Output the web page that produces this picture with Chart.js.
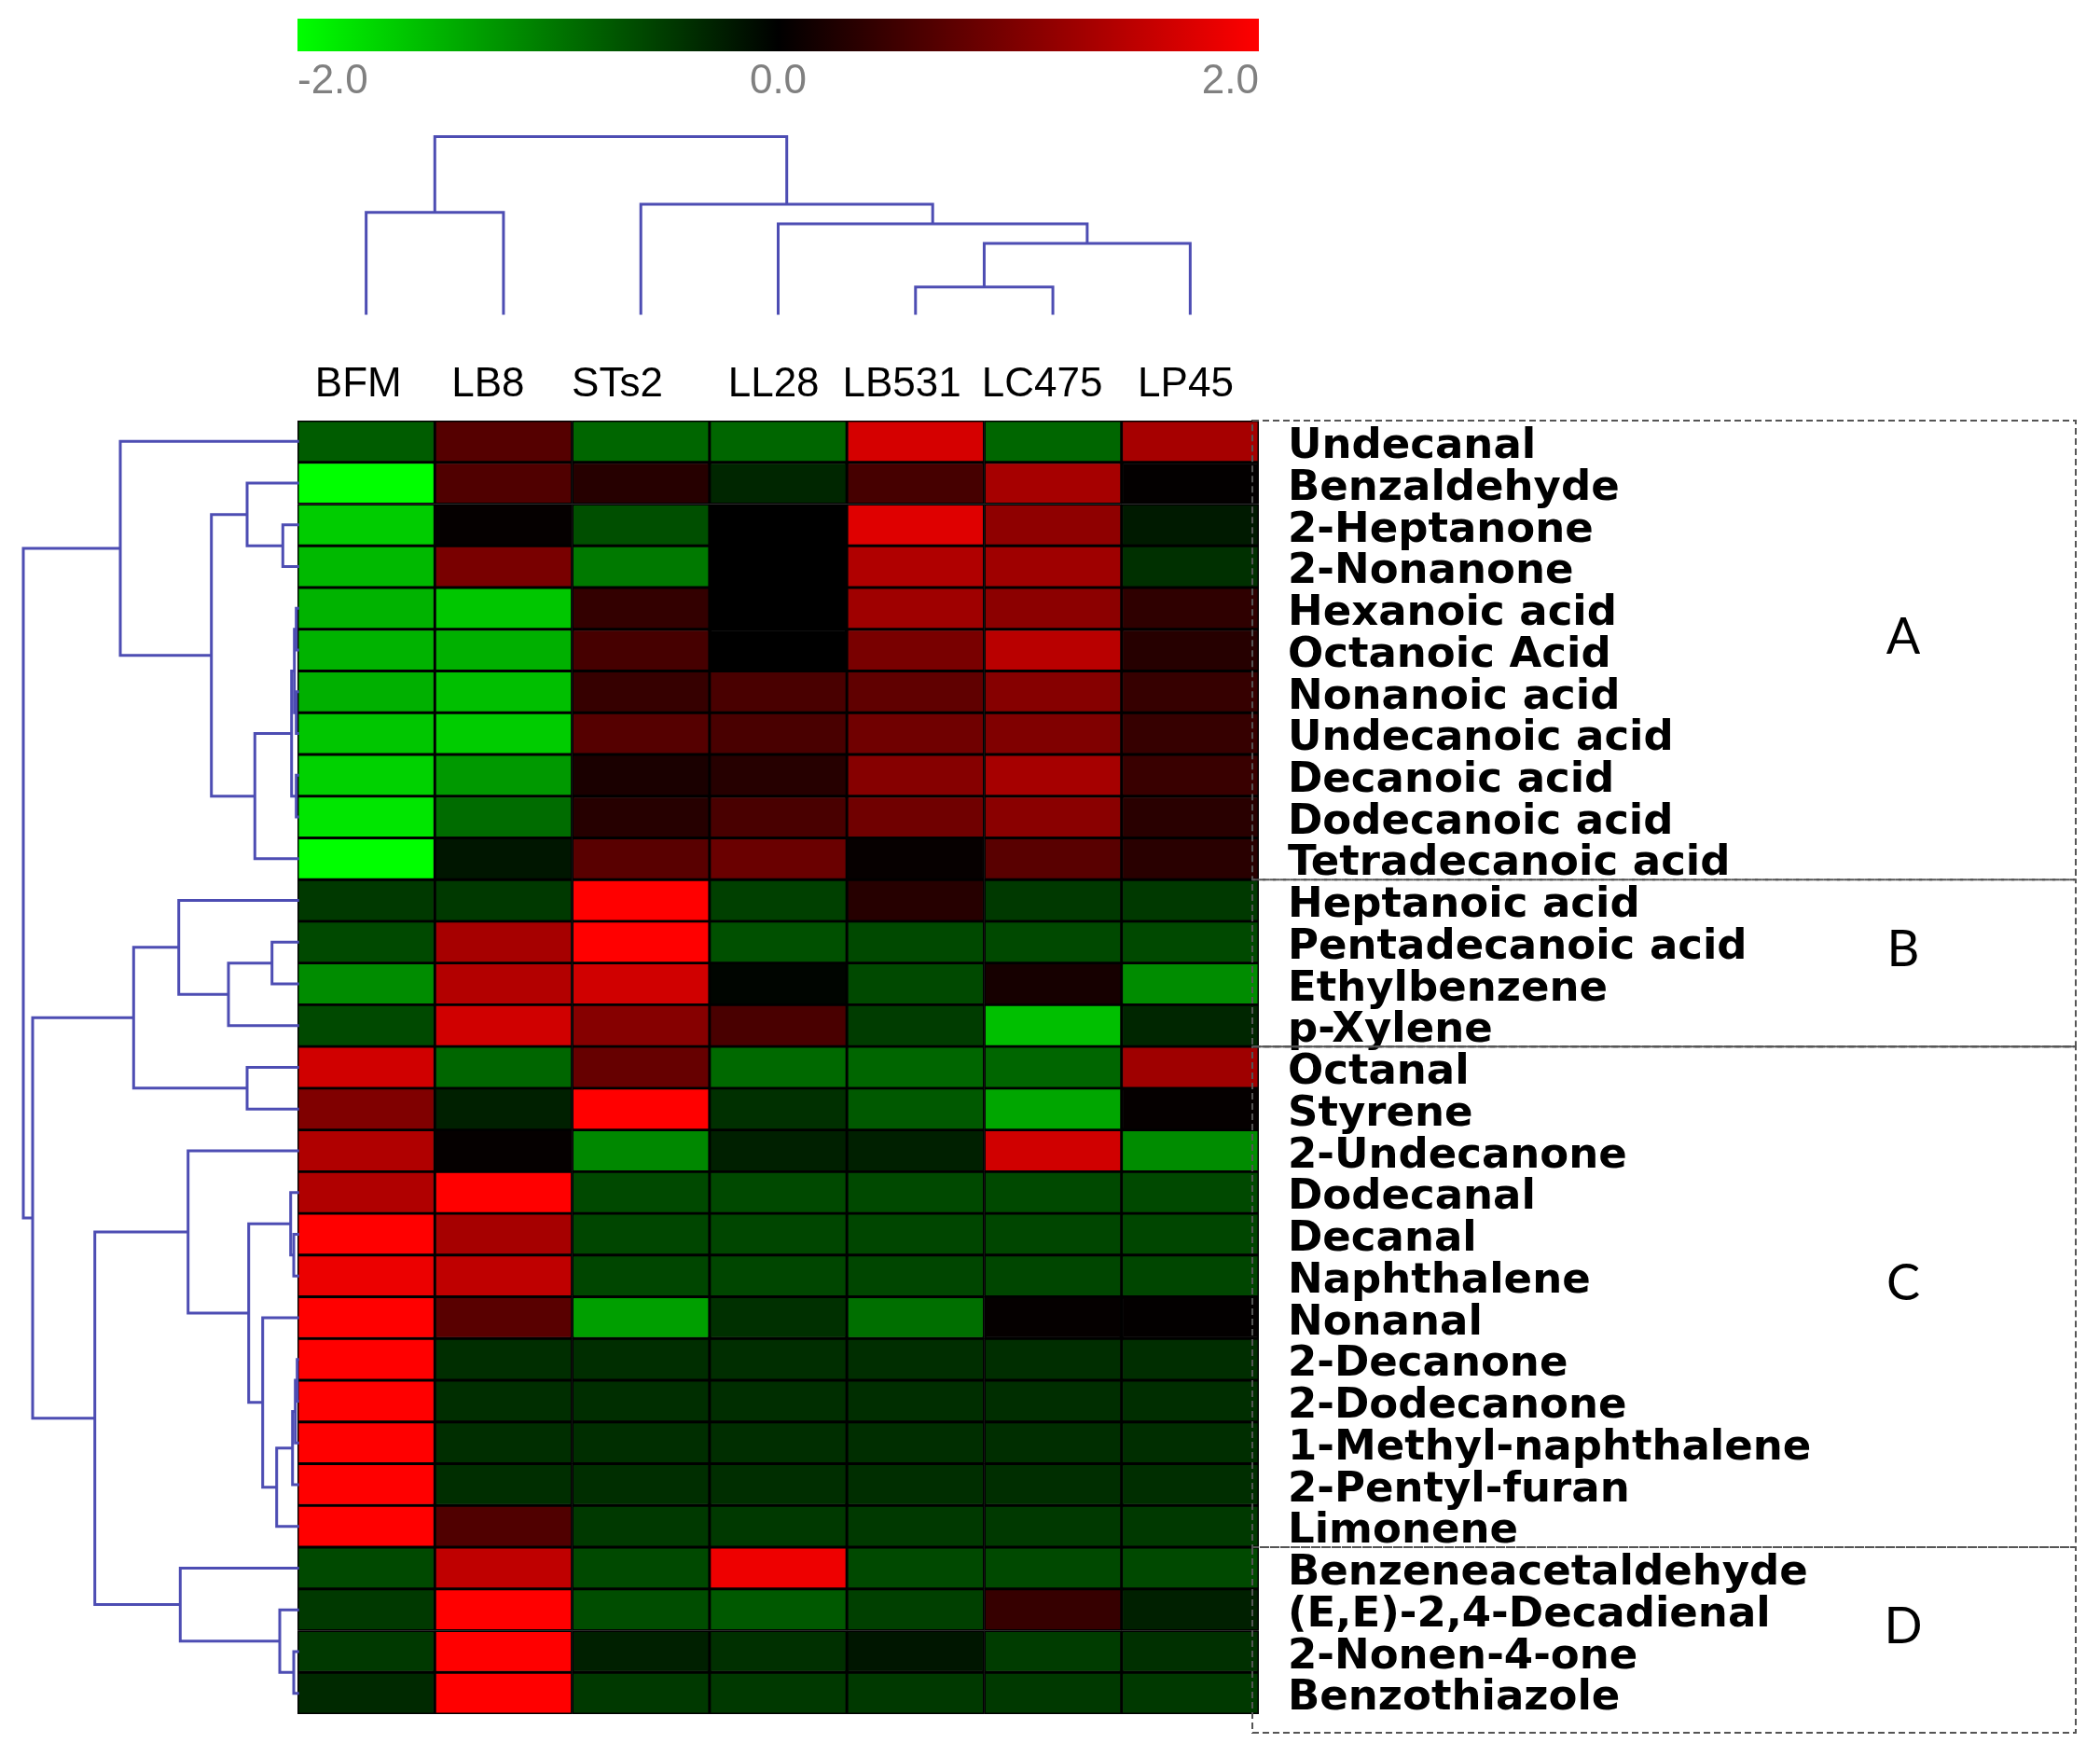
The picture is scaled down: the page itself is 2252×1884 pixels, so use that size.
<!DOCTYPE html>
<html>
<head>
<meta charset="utf-8">
<title>Volatile compounds heatmap</title>
<script src="https://cdn.jsdelivr.net/npm/chart.js@4.4.0/dist/chart.umd.min.js"></script>
<style>
  body { margin: 0; background: #fff; }
  #wrap { position: relative; width: 2252px; height: 1884px; overflow: hidden; }
  canvas { position: absolute; }
</style>
</head>
<body>
<div id="wrap">
  <canvas id="heat" width="2252" height="1950" style="left:0;top:0"></canvas>
  <canvas id="scale" width="1110" height="130" style="left:280px;top:0"></canvas>
  <canvas id="colTree" width="1070" height="231" style="left:300px;top:126px"></canvas>
  <canvas id="rowTree" width="340" height="1427" style="left:0;top:431px"></canvas>
</div>
<script>
// samples (columns) and compounds (rows), in dendrogram order
const samples = ['BFM', 'LB8', 'STs2', 'LL28', 'LB531', 'LC475', 'LP45'];
const compounds = [
    'Undecanal', 'Benzaldehyde', '2-Heptanone', '2-Nonanone', 'Hexanoic acid',
    'Octanoic Acid', 'Nonanoic acid', 'Undecanoic acid', 'Decanoic acid', 'Dodecanoic acid',
    'Tetradecanoic acid', 'Heptanoic acid', 'Pentadecanoic acid', 'Ethylbenzene', 'p-Xylene',
    'Octanal', 'Styrene', '2-Undecanone', 'Dodecanal', 'Decanal',
    'Naphthalene', 'Nonanal', '2-Decanone', '2-Dodecanone', '1-Methyl-naphthalene',
    '2-Pentyl-furan', 'Limonene', 'Benzeneacetaldehyde', '(E,E)-2,4-Decadienal', '2-Nonen-4-one',
    'Benzothiazole'
];

// scaled values per sample, one entry per compound (same order as compounds)
const BFM   = [-0.72, -2.0, -1.6, -1.45, -1.4, -1.4, -1.38, -1.55, -1.65, -1.8, -2.0,
               -0.45, -0.57, -1.1, -0.57, 1.63, 1.0, 1.38, 1.38, 2.0, 1.85, 2.0,
               2.0, 2.0, 2.0, 2.0, 2.0, -0.57, -0.45, -0.45, -0.32];
const LB8   = [0.67, 0.63, 0.04, 0.95, -1.55, -1.38, -1.5, -1.6, -1.2, -0.85, -0.17,
               -0.45, 1.3, 1.4, 1.63, -0.8, -0.25, 0.04, 2.0, 1.3, 1.5, 0.7,
               -0.36, -0.36, -0.36, -0.36, 0.63, 1.5, 2.0, 2.0, 2.0];
const STs2  = [-0.8, 0.3, -0.62, -0.95, 0.4, 0.55, 0.42, 0.67, 0.2, 0.3, 0.7,
               2.0, 2.0, 1.63, 1.05, 0.8, 2.0, -1.07, -0.57, -0.55, -0.55, -1.25,
               -0.36, -0.36, -0.36, -0.36, -0.45, -0.57, -0.6, -0.25, -0.45];
const LL28  = [-0.8, -0.3, 0.0, 0.0, 0.0, 0.0, 0.57, 0.57, 0.3, 0.57, 0.83,
               -0.5, -0.63, -0.04, 0.57, -0.82, -0.38, -0.25, -0.57, -0.55, -0.55, -0.38,
               -0.36, -0.36, -0.36, -0.36, -0.45, 1.87, -0.7, -0.38, -0.45];
const LB531 = [1.67, 0.55, 1.75, 1.38, 1.25, 0.95, 0.75, 0.88, 1.05, 0.88, 0.05,
               0.3, -0.57, -0.57, -0.47, -0.8, -0.7, -0.25, -0.57, -0.55, -0.55, -0.87,
               -0.36, -0.36, -0.36, -0.36, -0.45, -0.57, -0.5, -0.17, -0.45];
const LC475 = [-0.8, 1.3, 1.12, 1.25, 1.1, 1.45, 1.05, 1.0, 1.3, 1.08, 0.7,
               -0.45, -0.57, 0.17, -1.5, -0.8, -1.3, 1.63, -0.57, -0.55, -0.55, 0.04,
               -0.36, -0.36, -0.36, -0.36, -0.45, -0.57, 0.42, -0.47, -0.45];
const LP45  = [1.3, 0.02, -0.2, -0.38, 0.37, 0.3, 0.42, 0.42, 0.45, 0.32, 0.32,
               -0.45, -0.57, -1.1, -0.3, 1.25, 0.04, -1.1, -0.57, -0.55, -0.55, 0.02,
               -0.36, -0.36, -0.36, -0.36, -0.45, -0.57, -0.25, -0.38, -0.45];
const columns = [BFM, LB8, STs2, LL28, LB531, LC475, LP45];

// colour key ticks
const keyTicks = [-2, 0, 2];

// clustering: [child a, child b, height]; ids >= leaf count refer to earlier merges
const colMerges = [
    [4, 5, 1.56], [7, 6, 4.0], [3, 8, 5.1], [2, 9, 6.2], [0, 1, 5.74], [11, 10, 10]
];
const rowMerges = [
    [2, 3, 17.4], [1, 31, 55.7], [4, 5, 3], [6, 7, 3], [33, 34, 5], [8, 9, 3],
    [35, 36, 8], [37, 10, 47.4], [32, 38, 94], [0, 39, 191.7], [12, 13, 29],
    [41, 14, 75.7], [11, 42, 129], [15, 16, 55.7], [43, 44, 177.4], [19, 20, 5.7],
    [18, 46, 9], [22, 23, 2], [48, 24, 4], [49, 25, 7], [50, 26, 24], [21, 51, 39],
    [47, 52, 54], [17, 53, 119], [29, 30, 5.7], [28, 55, 20.7], [27, 56, 127.4],
    [54, 57, 219], [45, 58, 285.7], [40, 59, 295.7]
];

// compound groups
const groupNames = ['A', 'B', 'C', 'D'];
const groupFirst = [0, 11, 15, 27];
const groupLast = [10, 14, 26, 30];

// the sample names sit a little left of their column centres in the original
const labelShift = [-0.057, -0.112, -0.171, -0.033, -0.1, -0.078, -0.033];

const treeBlue = '#4d4db3';

function heatColor(v) {
    const c = Math.round(255 * Math.min(1, Math.abs(v) / 2));
    return v < 0 ? 'rgb(0,' + c + ',0)' : 'rgb(' + c + ',0,0)';
}

// turn merges into elbow segments: [[pos, h], ...]
function treeSegments(merges, n) {
    const pos = [], hgt = [], segs = [];
    for (let i = 0; i < n; i++) { pos.push(i); hgt.push(0); }
    merges.forEach(function (m) {
        const a = m[0], b = m[1], h = m[2];
        segs.push([[pos[a], hgt[a]], [pos[a], h], [pos[b], h], [pos[b], hgt[b]]]);
        pos.push((pos[a] + pos[b]) / 2);
        hgt.push(h);
    });
    return segs;
}

function treeDatasets(merges, n, toPoint) {
    return treeSegments(merges, n).map(function (s) {
        return {
            data: s.map(function (p) { return toPoint(p[0], p[1]); }),
            showLine: true,
            borderColor: treeBlue,
            borderWidth: 3,
            pointRadius: 0,
            tension: 0,
            clip: false
        };
    });
}

const quiet = { legend: { display: false }, tooltip: { enabled: false } };

// group boxes and letters on the right
const groupBoxes = {
    id: 'groupBoxes',
    afterDraw(chart) {
        const ctx = chart.ctx;
        const y = chart.scales.y;
        const step = y.getPixelForValue(1) - y.getPixelForValue(0);
        const left = chart.chartArea.right - 7;
        const right = 2226;
        ctx.save();
        ctx.strokeStyle = '#555';
        ctx.lineWidth = 2;
        ctx.font = '54px Lato';
        ctx.fillStyle = '#000';
        ctx.textAlign = 'center';
        ctx.textBaseline = 'middle';
        groupNames.forEach(function (name, g) {
            const top = y.getPixelForValue(groupFirst[g]) - step / 2;
            let bottom = y.getPixelForValue(groupLast[g]) + step / 2;
            if (g === groupNames.length - 1) bottom += 20;
            ctx.setLineDash([7, 4]);
            ctx.strokeRect(left, top, right - left, bottom - top);
            if (g === 1) {
                ctx.setLineDash([]);
                ctx.beginPath();
                ctx.moveTo(left, bottom);
                ctx.lineTo(right, bottom);
                ctx.stroke();
            }
            ctx.fillText(name, 2041, (top + bottom) / 2 - 14);
        });
        ctx.restore();
    }
};

function createHeatmap() {
    new Chart(document.getElementById('heat'), {
        type: 'bar',
        data: {
            labels: compounds,
            datasets: samples.map(function (name, j) {
                return {
                    label: name,
                    data: compounds.map(function () { return [j, j + 1]; }),
                    backgroundColor: columns[j].map(heatColor),
                    borderColor: '#000',
                    borderWidth: 1.8,
                    borderSkipped: false,
                    barPercentage: 1,
                    categoryPercentage: 1,
                    grouped: false
                };
            })
        },
        options: {
            indexAxis: 'y',
            responsive: false,
            animation: false,
            layout: { padding: { left: 319, top: 371, right: 22, bottom: 112 } },
            plugins: quiet,
            scales: {
                x: {
                    type: 'linear',
                    position: 'top',
                    min: 0,
                    max: samples.length,
                    grid: { display: false },
                    border: { display: false },
                    afterBuildTicks: function (s) {
                        s.ticks = samples.map(function (_, j) { return { value: j + 0.5 + labelShift[j] }; });
                    },
                    ticks: {
                        callback: function (v, i) { return samples[i]; },
                        color: '#000',
                        padding: 4,
                        maxRotation: 0,
                        font: { family: 'Liberation Sans', size: 44 }
                    },
                    afterFit: function (s) { s.height = 80; }
                },
                y: {
                    type: 'category',
                    position: 'right',
                    grid: { display: false },
                    border: { display: false },
                    ticks: {
                        autoSkip: false,
                        color: '#000',
                        padding: 23,
                        labelOffset: 6,
                        font: { family: 'DejaVu Sans', size: 45, weight: 'bold' }
                    },
                    afterFit: function (s) { s.width = 880; }
                }
            }
        },
        plugins: [groupBoxes]
    });
}

function createColorKey() {
    const keyGradient = function (c) {
        const area = c.chart.chartArea;
        if (!area) return '#000';
        const g = c.chart.ctx.createLinearGradient(area.left, 0, area.right, 0);
        g.addColorStop(0, heatColor(keyTicks[0]));
        g.addColorStop(0.5, heatColor(keyTicks[1]));
        g.addColorStop(1, heatColor(keyTicks[2]));
        return g;
    };
    new Chart(document.getElementById('scale'), {
        type: 'bar',
        data: {
            labels: [''],
            datasets: [{
                data: [[keyTicks[0], keyTicks[keyTicks.length - 1]]],
                backgroundColor: keyGradient,
                borderWidth: 0,
                barPercentage: 1,
                categoryPercentage: 1
            }]
        },
        options: {
            indexAxis: 'y',
            responsive: false,
            animation: false,
            layout: { padding: { left: 39, right: 40, top: 20, bottom: 0 } },
            plugins: quiet,
            scales: {
                y: { display: false },
                x: {
                    type: 'linear',
                    min: keyTicks[0],
                    max: keyTicks[keyTicks.length - 1],
                    grid: { display: false },
                    border: { display: false },
                    afterBuildTicks: function (s) {
                        s.ticks = keyTicks.map(function (v) { return { value: v }; });
                    },
                    ticks: {
                        align: 'inner',
                        padding: -2,
                        color: '#808080',
                        font: { family: 'Liberation Sans', size: 44 },
                        callback: function (v) { return Number(v).toFixed(1); }
                    },
                    afterFit: function (s) { s.height = 75; }
                }
            }
        }
    });
}

function createTrees() {
    new Chart(document.getElementById('colTree'), {
        type: 'scatter',
        data: {
            datasets: treeDatasets(colMerges, samples.length, function (p, h) {
                return { x: p + 0.5, y: h };
            })
        },
        options: {
            responsive: false,
            animation: false,
            layout: { padding: { left: 19, right: 20, top: 20.5, bottom: 19.5 } },
            plugins: quiet,
            scales: {
                x: { type: 'linear', display: false, min: 0, max: samples.length },
                y: { type: 'linear', display: false, min: 0, max: 10 }
            }
        }
    });

    new Chart(document.getElementById('rowTree'), {
        type: 'scatter',
        data: {
            datasets: treeDatasets(rowMerges, compounds.length, function (p, h) {
                return { x: h, y: p };
            })
        },
        options: {
            responsive: false,
            animation: false,
            layout: { padding: { left: 0, right: 19.3, top: 20, bottom: 20 } },
            plugins: quiet,
            scales: {
                x: { type: 'linear', display: false, reverse: true, min: 0, max: 320.7 },
                y: { type: 'linear', display: false, reverse: true, min: -0.5, max: compounds.length - 0.5 }
            }
        }
    });
}

window.onload = function () {
    createHeatmap();
    createColorKey();
    createTrees();
};
</script>
</body>
</html>
